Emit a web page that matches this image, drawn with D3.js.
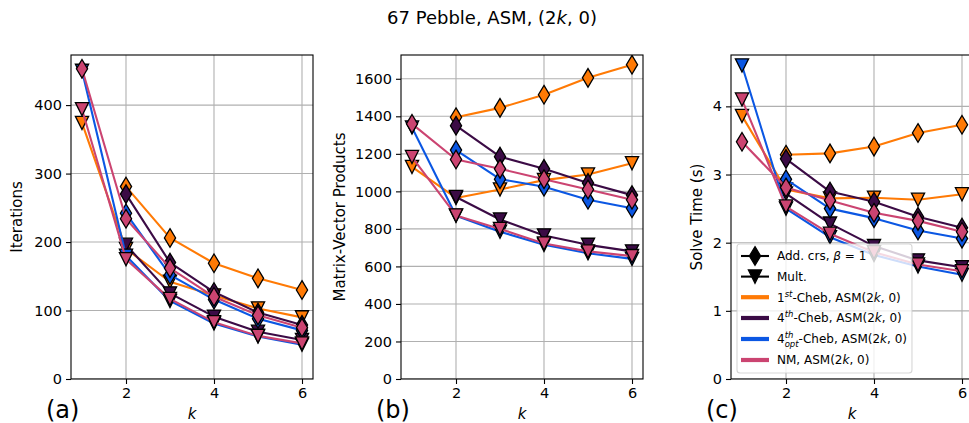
<!DOCTYPE html>
<html>
<head>
<meta charset="utf-8">
<script src="https://cdn.jsdelivr.net/npm/d3@7"></script>
<style>
  html, body { margin: 0; padding: 0; background: #fff; }
  svg { display: block; }
</style>
</head>
<body>
<script>
// k values (coarse-grid parameter) shared by all panels
const ks = [1, 2, 3, 4, 5, 6];
const kTicks = [2, 4, 6];

// smoother variants, in drawing order
const methodColors = ["#ff7a05", "#3b0b45", "#0b57e3", "#cb4471"];
const methodNames = ["1st", "4th", "4opt", "NM"];

// Iterations — rows follow methodNames; null = no run at that k
const iterAdd = [
  [null, 281, 206, 169, 147, 130],
  [null, 270, 170, 127, 97, 79],
  [null, 242, 152, 116, 88, 71],
  [453, 234, 162, 120, 93, 75]
];
const iterMult = [
  [374, 190, 142, 122, 103, 90],
  [null, 196, 125, 91, 69, 57],
  [450, 180, 114, 81, 62, 50],
  [394, 175, 117, 83, 63, 52]
];

// Matrix-vector products
const matvecAdd = [
  [null, 1395, 1445, 1515, 1605, 1675],
  [null, 1350, 1185, 1120, 1045, 980],
  [null, 1220, 1065, 1025, 955, 910],
  [1360, 1170, 1120, 1065, 1010, 955]
];
const matvecMult = [
  [1130, 965, 1010, 1060, 1090, 1150],
  [null, 970, 850, 765, 715, 680],
  [1340, 870, 785, 715, 670, 640],
  [1183, 872, 800, 722, 680, 655]
];

// Solve time (s)
const timeAdd = [
  [null, 3.29, 3.31, 3.41, 3.61, 3.73],
  [null, 3.23, 2.75, 2.60, 2.38, 2.22],
  [null, 2.93, 2.50, 2.36, 2.18, 2.06],
  [3.48, 2.81, 2.62, 2.44, 2.32, 2.16]
];
const timeMult = [
  [3.86, 2.78, 2.65, 2.66, 2.63, 2.71],
  [null, 2.72, 2.28, 1.95, 1.74, 1.64],
  [4.60, 2.50, 2.08, 1.82, 1.65, 1.53],
  [4.10, 2.53, 2.13, 1.86, 1.68, 1.58]
];

const iterTicks = [0, 100, 200, 300, 400];
const matvecTicks = [0, 200, 400, 600, 800, 1000, 1200, 1400, 1600];
const timeTicks = [0, 1, 2, 3, 4];

const W = 969, H = 423;
const FONT = "DejaVu Sans";
const TICK_FS = 14.5;
const LABEL_FS = 15;

const svg = d3.select("body").append("svg")
  .attr("width", W).attr("height", H)
  .style("font-family", FONT);

// title
const title = svg.append("text")
  .attr("x", 492).attr("y", 24)
  .attr("text-anchor", "middle")
  .attr("font-size", 18)
  .attr("fill", "#000");
title.append("tspan").text("67 Pebble, ASM, (2");
title.append("tspan").attr("font-style", "italic").text("k");
title.append("tspan").text(", 0)");

const plotTop = 55, plotBottom = 379, plotW = 242;

const panels = [
  { x0: 71, ylabel: "Iterations", add: iterAdd, mult: iterMult, ticks: iterTicks, fmt: d3.format("d"), tag: "(a)", ylabX: 17 },
  { x0: 401, ylabel: "Matrix-Vector Products", add: matvecAdd, mult: matvecMult, ticks: matvecTicks, fmt: d3.format("d"), tag: "(b)", ylabX: 340 },
  { x0: 731, ylabel: "Solve Time (s)", add: timeAdd, mult: timeMult, ticks: timeTicks, fmt: d3.format("d"), tag: "(c)", ylabX: 697 }
];

// marker shapes: thin diamond for additive coarse, down-triangle for multiplicative
function diamondPath(cx, cy) {
  const hw = 5.6, hh = 9.3;
  return `M${cx},${cy - hh}L${cx + hw},${cy}L${cx},${cy + hh}L${cx - hw},${cy}Z`;
}
function triPath(cx, cy) {
  const h = 6.6;
  return `M${cx - h},${cy - h}L${cx + h},${cy - h}L${cx},${cy + h}Z`;
}

panels.forEach((p, pi) => {
  const x = d3.scaleLinear().domain([0.75, 6.25]).range([p.x0, p.x0 + plotW]);
  const vals = [...p.add.flat(), ...p.mult.flat()].filter(v => v != null);
  const vmin = d3.min(vals), vmax = d3.max(vals);
  const y = d3.scaleLinear().domain([0, vmax + 0.05 * (vmax - vmin)]).range([plotBottom, plotTop]);

  const g = svg.append("g");
  const clipId = "clip" + pi;
  svg.append("clipPath").attr("id", clipId)
    .append("rect").attr("x", p.x0).attr("y", plotTop).attr("width", plotW).attr("height", plotBottom - plotTop);

  // grid
  const grid = g.append("g").attr("clip-path", `url(#${clipId})`);
  kTicks.forEach(t => grid.append("line")
    .attr("x1", x(t)).attr("x2", x(t)).attr("y1", plotTop).attr("y2", plotBottom)
    .attr("stroke", "#b0b0b0").attr("stroke-width", 1.1));
  p.ticks.forEach(t => grid.append("line")
    .attr("x1", p.x0).attr("x2", p.x0 + plotW).attr("y1", y(t)).attr("y2", y(t))
    .attr("stroke", "#b0b0b0").attr("stroke-width", 1.1));

  // series
  const data = g.append("g").attr("clip-path", `url(#${clipId})`);
  const line = d3.line().defined(d => d.v != null).x(d => x(d.k)).y(d => y(d.v));
  methodNames.forEach((m, mi) => {
    [["add", p.add[mi], diamondPath], ["mult", p.mult[mi], triPath]].forEach(([kind, arr, shape]) => {
      const pts = ks.map((k, i) => ({ k, v: arr[i] }));
      data.append("path").datum(pts)
        .attr("d", line)
        .attr("fill", "none")
        .attr("stroke", methodColors[mi])
        .attr("stroke-width", 2.1)
        .attr("stroke-linejoin", "round");
      data.selectAll(null).data(pts.filter(d => d.v != null)).enter()
        .append("path")
        .attr("d", d => shape(x(d.k), y(d.v)))
        .attr("fill", methodColors[mi])
        .attr("stroke", "#000")
        .attr("stroke-width", 1.3)
        .attr("stroke-linejoin", "miter");
    });
  });

  // frame
  g.append("rect")
    .attr("x", p.x0).attr("y", plotTop).attr("width", plotW).attr("height", plotBottom - plotTop)
    .attr("fill", "none").attr("stroke", "#000").attr("stroke-width", 1.1);

  // axes
  const ax = g.append("g").attr("transform", `translate(0,${plotBottom})`)
    .call(d3.axisBottom(x).tickValues(kTicks).tickSize(5).tickPadding(4).tickFormat(d3.format("d")));
  const ay = g.append("g").attr("transform", `translate(${p.x0},0)`)
    .call(d3.axisLeft(y).tickValues(p.ticks).tickSize(5).tickPadding(4).tickFormat(p.fmt));
  [ax, ay].forEach(a => {
    a.select(".domain").remove();
    a.selectAll("line").attr("stroke", "#000").attr("stroke-width", 1.1);
    a.selectAll("text").attr("font-size", TICK_FS).attr("font-family", FONT).attr("fill", "#000");
  });

  // axis labels
  svg.append("text")
    .attr("x", p.x0 + plotW / 2).attr("y", 419)
    .attr("text-anchor", "middle")
    .attr("font-size", LABEL_FS).attr("font-style", "italic")
    .text("k");
  svg.append("text")
    .attr("transform", `translate(${p.ylabX},${(plotTop + plotBottom) / 2}) rotate(-90)`)
    .attr("text-anchor", "middle")
    .attr("dy", "0.35em")
    .attr("font-size", LABEL_FS)
    .text(p.ylabel);

  // panel tag
  svg.append("text")
    .attr("x", p.x0 - 25).attr("y", 418)
    .attr("font-size", 24)
    .text(p.tag);
});

// legend in the solve-time panel
(function legend() {
  const lx = 737, ly = 244, fs = 12;
  const lg = svg.append("g");
  const box = lg.append("rect")
    .attr("x", lx).attr("y", ly).attr("rx", 3).attr("ry", 3)
    .attr("fill", "#fff").attr("fill-opacity", 0.8)
    .attr("stroke", "#cccccc").attr("stroke-opacity", 0.8).attr("stroke-width", 1.1);

  const hx0 = lx + 4, hx1 = lx + 32, tx = lx + 40;
  const rowY = [256, 276.6, 297.2, 318, 339, 360];
  const texts = [];

  // coarse-correction markers (black)
  [[diamondPath, "add"], [triPath, "mult"]].forEach(([shape], i) => {
    lg.append("line").attr("x1", hx0).attr("x2", hx1).attr("y1", rowY[i]).attr("y2", rowY[i])
      .attr("stroke", "#000").attr("stroke-width", 2.1);
    lg.append("path").attr("d", shape((hx0 + hx1) / 2, rowY[i]))
      .attr("fill", "#000").attr("stroke", "#000").attr("stroke-width", 1.3);
  });
  const t0 = lg.append("text").attr("x", tx).attr("y", rowY[0]).attr("dy", "0.36em").attr("font-size", fs);
  t0.append("tspan").text("Add. crs, ");
  t0.append("tspan").attr("font-style", "italic").text("β");
  t0.append("tspan").text(" = 1");
  texts.push(t0);
  const t1 = lg.append("text").attr("x", tx).attr("y", rowY[1]).attr("dy", "0.36em").attr("font-size", fs).text("Mult.");
  texts.push(t1);

  // smoother colours
  methodNames.forEach((m, i) => {
    const yy = rowY[i + 2];
    lg.append("line").attr("x1", hx0).attr("x2", hx1).attr("y1", yy).attr("y2", yy)
      .attr("stroke", methodColors[i]).attr("stroke-width", 4.2);
    const t = lg.append("text").attr("x", tx).attr("y", yy).attr("dy", "0.36em").attr("font-size", fs);
    if (m === "1st") {
      t.append("tspan").text("1");
      t.append("tspan").attr("font-style", "italic").attr("font-size", 8.5).attr("dy", -5).text("st");
      t.append("tspan").attr("dy", 5).text("-Cheb, ASM(2");
    } else if (m === "4th") {
      t.append("tspan").text("4");
      t.append("tspan").attr("font-style", "italic").attr("font-size", 8.5).attr("dy", -5).text("th");
      t.append("tspan").attr("dy", 5).text("-Cheb, ASM(2");
    } else if (m === "4opt") {
      t.append("tspan").text("4");
      t.append("tspan").attr("font-style", "italic").attr("font-size", 8.5).attr("dy", -5.5).text("th");
      t.append("tspan").attr("font-style", "italic").attr("font-size", 8.5).attr("dx", -8.7).attr("dy", 9).text("opt");
      t.append("tspan").attr("dy", -3.5).text("-Cheb, ASM(2");
    } else {
      t.append("tspan").text("NM, ASM(2");
    }
    t.append("tspan").attr("font-style", "italic").text("k");
    t.append("tspan").text(", 0)");
    texts.push(t);
  });

  const maxRight = d3.max(texts, t => t.node().getBBox().x + t.node().getBBox().width);
  box.attr("width", maxRight - lx + 5).attr("height", 373 - ly);
})();
</script>
</body>
</html>
